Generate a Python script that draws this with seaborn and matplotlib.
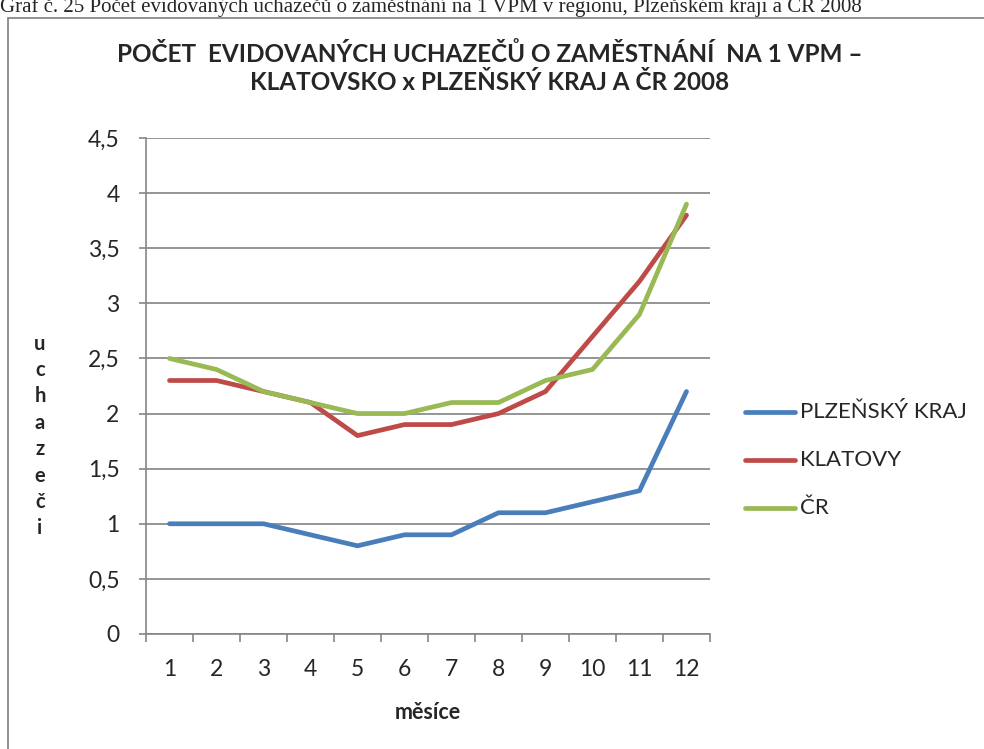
import pandas as pd
import matplotlib.pyplot as plt
import seaborn as sns
from matplotlib.ticker import FuncFormatter, FixedLocator
from matplotlib.patches import Rectangle

# Data
months = list(range(1, 13))
plzensky = [1.0, 1.0, 1.0, 0.9, 0.8, 0.9, 0.9, 1.1, 1.1, 1.2, 1.3, 2.2]
klatovy = [2.3, 2.3, 2.2, 2.1, 1.8, 1.9, 1.9, 2.0, 2.2, 2.7, 3.2, 3.8]
cr = [2.5, 2.4, 2.2, 2.1, 2.0, 2.0, 2.1, 2.1, 2.3, 2.4, 2.9, 3.9]
series_names = ["PLZEŇSKÝ KRAJ", "KLATOVY", "ČR"]
colors = ["#4A7EBB", "#BE4B48", "#98B954"]

df = pd.DataFrame({
    "měsíce": months * 3,
    "hodnota": plzensky + klatovy + cr,
    "řada": [series_names[0]] * 12 + [series_names[1]] * 12 + [series_names[2]] * 12,
})

sns.set_style("white")
plt.rcParams['font.family'] = ['Lato', 'DejaVu Sans']

fig = plt.figure(figsize=(9.84, 7.49), dpi=100)
W, H = 984, 749
ax = fig.add_axes([146 / W, 1 - 634 / H, (710 - 146) / W, (634 - 138) / H])

sns.lineplot(data=df, x="měsíce", y="hodnota", hue="řada",
             palette=colors, linewidth=3.4, ax=ax, legend=False,
             solid_capstyle="round")

ax.set_xlim(0.5, 12.5)
ax.set_ylim(0, 4.5)
ax.set_yticks([i * 0.5 for i in range(10)])
ax.yaxis.set_major_formatter(FuncFormatter(lambda v, p: f"{v:g}".replace(".", ",")))
ax.set_xticks(months)
ax.xaxis.set_minor_locator(FixedLocator([m + 0.5 for m in range(0, 13)]))
ax.tick_params(axis="x", which="major", length=0, labelsize=16.5, pad=18)
ax.tick_params(axis="x", which="minor", length=6, color="#868686", width=1.2, bottom=True)
ax.tick_params(axis="y", which="major", length=5, color="#868686", width=1.2,
               labelsize=16.5, left=True, pad=14)
ax.yaxis.grid(True, color="#8c8c8c", linewidth=1.3)
ax.xaxis.grid(False)
for side in ["top", "right"]:
    ax.spines[side].set_visible(False)
for side in ["left", "bottom"]:
    ax.spines[side].set_color("#868686")
    ax.spines[side].set_linewidth(1.2)

ax.set_xlabel("měsíce", fontsize=15.5, fontweight="bold", labelpad=16)
ax.set_ylabel("")
fig.text(40 / W, 1 - 436 / H, "u\nc\nh\na\nz\ne\nč\ni", ha="center", va="center",
         fontsize=14.5, fontweight="bold", linespacing=1.4)

fig.text(490 / W, 1 - 68 / H,
         "POČET  EVIDOVANÝCH UCHAZEČŮ O ZAMĚSTNÁNÍ  NA 1 VPM –\nKLATOVSKO x PLZEŇSKÝ KRAJ A ČR 2008",
         ha="center", va="center", fontsize=17.5, fontweight="bold", linespacing=1.25)

# legend drawn manually in figure coords
for i, (name, col) in enumerate(zip(series_names, colors)):
    y = 1 - (412 + 48 * i) / H
    fig.add_artist(plt.Line2D([745 / W, 795 / W], [y, y], color=col, linewidth=3.4,
                              transform=fig.transFigure))
    fig.text(800 / W, y, name, ha="left", va="center", fontsize=16)

# outer border and cut-off caption
fig.add_artist(Rectangle((8 / W, -0.05), 1.0, 1 - 18 / H + 0.05, transform=fig.transFigure,
                         fill=False, edgecolor="#7f7f7f", linewidth=1.2))
fig.text(0, 1 - 12 / H,
         "Graf č. 25 Počet evidovaných uchazečů o zaměstnání na 1 VPM v regionu, Plzeňském kraji a ČR 2008",
         ha="left", va="baseline", fontsize=15, family=["Liberation Serif", "DejaVu Serif"])

fig.savefig("out.png", dpi=100)
